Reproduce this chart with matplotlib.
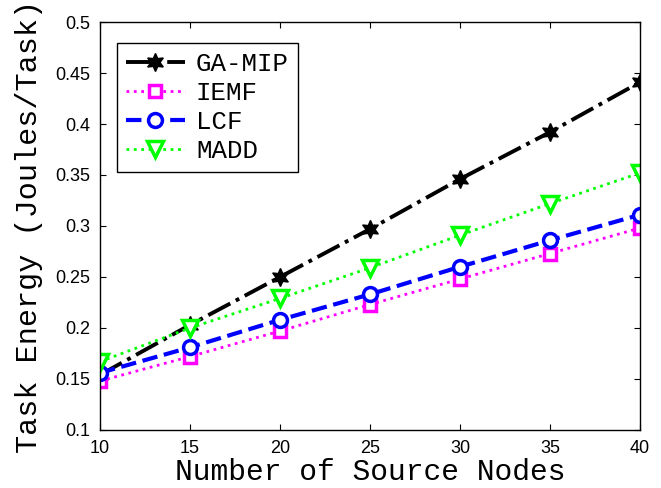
import matplotlib
matplotlib.use("Agg")
import matplotlib.pyplot as plt

# ── data ─────────────────────────────────────────────────────────────────────
nodes = [10, 15, 20, 25, 30, 35, 40]
ga_mip = [0.154, 0.203, 0.250, 0.297, 0.346, 0.392, 0.441]
iemf = [0.148, 0.172, 0.197, 0.223, 0.248, 0.273, 0.298]
lcf = [0.156, 0.181, 0.208, 0.233, 0.260, 0.286, 0.311]
madd = [0.167, 0.200, 0.229, 0.259, 0.291, 0.322, 0.352]

x_ticks = [10, 15, 20, 25, 30, 35, 40]
y_ticks = [0.1, 0.15, 0.2, 0.25, 0.3, 0.35, 0.4, 0.45, 0.5]
y_tick_labels = ["0.1", "0.15", "0.2", "0.25", "0.3", "0.35", "0.4", "0.45", "0.5"]

mono = "Liberation Mono"
sans = "Liberation Sans"

fig = plt.figure(figsize=(6.61, 4.88), dpi=100)
ax = fig.add_axes([0.1513, 0.1189, 0.8169, 0.836])

ax.plot(nodes, ga_mip, color="black", linestyle="-.", linewidth=2.8,
        marker=(6, 1, 0), markersize=13, markerfacecolor="black",
        markeredgecolor="black", label="GA-MIP")
ax.plot(nodes, iemf, color=(1, 0, 1), linestyle=":", linewidth=2,
        marker="s", markersize=8, markerfacecolor="white",
        markeredgecolor=(1, 0, 1), markeredgewidth=2.5, label="IEMF")
ax.plot(nodes, lcf, color="blue", linestyle="--", linewidth=3,
        marker="o", markersize=10, markerfacecolor="white",
        markeredgecolor="blue", markeredgewidth=2.5, label="LCF")
ax.plot(nodes, madd, color=(0, 1, 0), linestyle=":", linewidth=2,
        marker="v", markersize=12, markerfacecolor="white",
        markeredgecolor=(0, 1, 0), markeredgewidth=2.5, label="MADD")

ax.set_xlim(10, 40)
ax.set_ylim(0.1, 0.5)
ax.set_xticks(x_ticks)
ax.set_yticks(y_ticks)
ax.set_yticklabels(y_tick_labels)
ax.tick_params(direction="in", length=4, width=0.8, top=True, right=True,
               labelsize=13, pad=7)
for lab in ax.get_xticklabels() + ax.get_yticklabels():
    lab.set_fontfamily(sans)
for sp in ax.spines.values():
    sp.set_linewidth(1.0)

ax.set_xlabel("Number of Source Nodes", fontfamily=mono, fontsize=21.3, labelpad=1)
ax.set_ylabel("Task Energy (Joules/Task)", fontfamily=mono, fontsize=21.7, labelpad=9)

leg = ax.legend(loc="upper left", bbox_to_anchor=(0.031, 0.949), borderaxespad=0,
                prop={"family": mono, "size": 18.5}, handlelength=2.3,
                fancybox=False, edgecolor="black", framealpha=1,
                labelspacing=0.2, borderpad=0.35, handletextpad=0.43)
leg.get_frame().set_linewidth(1.0)

fig.savefig("out.png", dpi=100)
